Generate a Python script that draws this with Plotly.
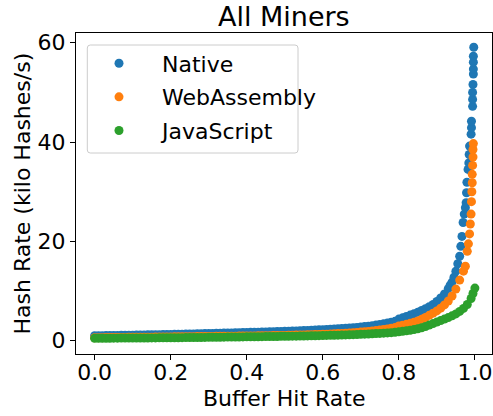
import plotly.graph_objects as go

# ---- data (Buffer Hit Rate vs Hash Rate, kH/s) ----
native_x = [0.00, 0.01, 0.02, 0.03, 0.04, 0.05, 0.06, 0.07, 0.08, 0.09,
            0.10, 0.11, 0.12, 0.13, 0.14, 0.15, 0.16, 0.17, 0.18, 0.19,
            0.20, 0.21, 0.22, 0.23, 0.24, 0.25, 0.26, 0.27, 0.28, 0.29,
            0.30, 0.31, 0.32, 0.33, 0.34, 0.35, 0.36, 0.37, 0.38, 0.39,
            0.40, 0.41, 0.42, 0.43, 0.44, 0.45, 0.46, 0.47, 0.48, 0.49,
            0.50, 0.51, 0.52, 0.53, 0.54, 0.55, 0.56, 0.57, 0.58, 0.59,
            0.60, 0.61, 0.62, 0.63, 0.64, 0.65, 0.66, 0.67, 0.68, 0.69,
            0.70, 0.71, 0.72, 0.73, 0.74, 0.75, 0.76, 0.77, 0.78, 0.79,
            0.80, 0.81, 0.82, 0.83, 0.84, 0.85, 0.86, 0.87, 0.88, 0.89,
            0.90, 0.91, 0.92, 0.93, 0.935, 0.94, 0.945, 0.95, 0.955, 0.96,
            0.963, 0.966, 0.969, 0.972, 0.975, 0.977, 0.978, 0.979, 0.982, 0.984,
            0.985, 0.986, 0.990, 0.991, 0.991, 0.994, 0.994, 0.994, 0.995, 0.996,
            0.996, 0.996, 0.996, 0.997]
native_y = [1.00, 1.01, 1.02, 1.03, 1.05, 1.06, 1.07, 1.08, 1.10, 1.11,
            1.12, 1.14, 1.15, 1.16, 1.18, 1.19, 1.20, 1.22, 1.23, 1.25,
            1.26, 1.28, 1.30, 1.32, 1.33, 1.35, 1.37, 1.39, 1.41, 1.43,
            1.45, 1.47, 1.49, 1.51, 1.53, 1.55, 1.57, 1.60, 1.62, 1.64,
            1.66, 1.68, 1.70, 1.72, 1.74, 1.76, 1.78, 1.81, 1.84, 1.87,
            1.89, 1.92, 1.95, 1.97, 2.00, 2.03, 2.06, 2.10, 2.14, 2.18,
            2.22, 2.26, 2.30, 2.34, 2.39, 2.44, 2.49, 2.55, 2.61, 2.68,
            2.76, 2.84, 2.93, 3.03, 3.14, 3.26, 3.39, 3.54, 3.71, 3.90,
            4.35, 4.60, 4.87, 5.15, 5.45, 5.75, 6.10, 6.45, 6.85, 7.30,
            7.90, 8.60, 9.40, 10.5, 11.2, 11.8, 12.8, 14.0, 15.5, 17.0,
            19.0, 21.0, 23.8, 25.5, 26.8, 27.8, 29.8, 31.9, 34.5, 35.8,
            37.5, 39.2, 41.6, 42.9, 44.2, 47.2, 48.6, 50.0, 51.6, 53.7,
            54.7, 56.1, 57.3, 59.1]

wasm_x = [0.00, 0.01, 0.02, 0.03, 0.04, 0.05, 0.06, 0.07, 0.08, 0.09,
          0.10, 0.11, 0.12, 0.13, 0.14, 0.15, 0.16, 0.17, 0.18, 0.19,
          0.20, 0.21, 0.22, 0.23, 0.24, 0.25, 0.26, 0.27, 0.28, 0.29,
          0.30, 0.31, 0.32, 0.33, 0.34, 0.35, 0.36, 0.37, 0.38, 0.39,
          0.40, 0.41, 0.42, 0.43, 0.44, 0.45, 0.46, 0.47, 0.48, 0.49,
          0.50, 0.51, 0.52, 0.53, 0.54, 0.55, 0.56, 0.57, 0.58, 0.59,
          0.60, 0.61, 0.62, 0.63, 0.64, 0.65, 0.66, 0.67, 0.68, 0.69,
          0.70, 0.71, 0.72, 0.73, 0.74, 0.75, 0.76, 0.77, 0.78, 0.79,
          0.80, 0.81, 0.82, 0.83, 0.84, 0.85, 0.86, 0.87, 0.88, 0.89,
          0.90, 0.91, 0.92, 0.93, 0.94, 0.95, 0.96, 0.97, 0.975, 0.98,
          0.983, 0.986, 0.988, 0.990, 0.991, 0.992, 0.993, 0.993, 0.994, 0.995,
          0.995, 0.996]
wasm_y = [0.60, 0.61, 0.61, 0.62, 0.63, 0.64, 0.64, 0.65, 0.66, 0.67,
          0.68, 0.68, 0.69, 0.70, 0.71, 0.71, 0.72, 0.73, 0.74, 0.75,
          0.76, 0.77, 0.77, 0.78, 0.79, 0.80, 0.81, 0.82, 0.83, 0.84,
          0.85, 0.86, 0.87, 0.88, 0.89, 0.90, 0.91, 0.92, 0.93, 0.94,
          0.95, 0.96, 0.97, 0.98, 0.99, 1.00, 1.02, 1.03, 1.04, 1.06,
          1.07, 1.09, 1.11, 1.13, 1.15, 1.17, 1.19, 1.21, 1.23, 1.26,
          1.29, 1.32, 1.35, 1.39, 1.43, 1.47, 1.51, 1.56, 1.61, 1.67,
          1.73, 1.80, 1.87, 1.95, 2.04, 2.14, 2.25, 2.37, 2.50, 2.64,
          2.95, 3.12, 3.30, 3.50, 3.72, 3.98, 4.30, 4.68, 5.10, 5.55,
          6.00, 6.55, 7.20, 8.00, 9.00, 10.4, 12.2, 14.0, 15.0, 18.0,
          19.5, 21.5, 23.5, 25.5, 28.0, 30.0, 31.8, 33.5, 35.3, 37.0,
          38.5, 39.7]

js_x = [0.00, 0.01, 0.02, 0.03, 0.04, 0.05, 0.06, 0.07, 0.08, 0.09,
        0.10, 0.11, 0.12, 0.13, 0.14, 0.15, 0.16, 0.17, 0.18, 0.19,
        0.20, 0.21, 0.22, 0.23, 0.24, 0.25, 0.26, 0.27, 0.28, 0.29,
        0.30, 0.31, 0.32, 0.33, 0.34, 0.35, 0.36, 0.37, 0.38, 0.39,
        0.40, 0.41, 0.42, 0.43, 0.44, 0.45, 0.46, 0.47, 0.48, 0.49,
        0.50, 0.51, 0.52, 0.53, 0.54, 0.55, 0.56, 0.57, 0.58, 0.59,
        0.60, 0.61, 0.62, 0.63, 0.64, 0.65, 0.66, 0.67, 0.68, 0.69,
        0.70, 0.71, 0.72, 0.73, 0.74, 0.75, 0.76, 0.77, 0.78, 0.79,
        0.80, 0.81, 0.82, 0.83, 0.84, 0.85, 0.86, 0.87, 0.88, 0.89,
        0.90, 0.91, 0.92, 0.93, 0.94, 0.95, 0.96, 0.97, 0.98, 0.99,
        0.995, 1.00]
js_y = [0.48, 0.49, 0.49, 0.50, 0.50, 0.51, 0.51, 0.52, 0.52, 0.53,
        0.53, 0.54, 0.54, 0.55, 0.55, 0.56, 0.56, 0.57, 0.57, 0.58,
        0.59, 0.59, 0.60, 0.61, 0.62, 0.63, 0.64, 0.64, 0.65, 0.66,
        0.67, 0.68, 0.69, 0.70, 0.71, 0.72, 0.73, 0.74, 0.75, 0.76,
        0.77, 0.78, 0.79, 0.80, 0.81, 0.82, 0.83, 0.84, 0.85, 0.87,
        0.88, 0.89, 0.91, 0.92, 0.94, 0.95, 0.97, 0.99, 1.00, 1.02,
        1.04, 1.06, 1.08, 1.10, 1.12, 1.14, 1.17, 1.19, 1.22, 1.25,
        1.28, 1.31, 1.35, 1.39, 1.43, 1.47, 1.52, 1.57, 1.62, 1.68,
        1.78, 1.88, 1.99, 2.11, 2.25, 2.40, 2.60, 2.85, 3.15, 3.45,
        3.75, 4.05, 4.35, 4.65, 5.00, 5.40, 5.90, 6.50, 7.30, 8.50,
        9.50, 10.6]

series_names = ["Native", "WebAssembly", "JavaScript"]
series_colors = ["#1f77b4", "#ff7f0e", "#2ca02c"]
x_ticks = [0.0, 0.2, 0.4, 0.6, 0.8, 1.0]
x_tick_labels = ["0.0", "0.2", "0.4", "0.6", "0.8", "1.0"]
y_ticks = [0, 20, 40, 60]
y_tick_labels = ["0", "20", "40", "60"]
title_text = "All Miners"
x_title = "Buffer Hit Rate"
y_title = "Hash Rate (kilo Hashes/s)"

FONT = "DejaVu Sans"
W, H = 493, 416
ML, MR, MT, MB = 76, 1, 33, 62
PW, PH = W - ML - MR, H - MT - MB


def px_to_paper_x(px):
    return (px - ML) / PW


def px_to_paper_y(py):
    return (H - MB - py) / PH


fig = go.Figure()
for name, color, xs, ys in zip(series_names, series_colors,
                               [native_x, wasm_x, js_x],
                               [native_y, wasm_y, js_y]):
    fig.add_trace(go.Scatter(
        x=xs, y=ys, mode="markers", name=name, legendgroup=name,
        marker=dict(color=color, size=9, line=dict(width=0)),
    ))

axis_common = dict(
    showgrid=False, zeroline=False, showline=True, linecolor="black",
    linewidth=1, mirror=True, ticks="outside", ticklen=5, tickwidth=1,
    tickcolor="black", tickfont=dict(family=FONT, size=22, color="black"),
)

# legend frame (rounded box like the reference)
bx0, bx1 = px_to_paper_x(87.3), px_to_paper_x(298)
by0, by1 = px_to_paper_y(153), px_to_paper_y(45)
rx, ry = 3 / PW, 3 / PH
frame_path = (f"M {bx0 + rx},{by1} L {bx1 - rx},{by1} Q {bx1},{by1} {bx1},{by1 - ry} "
              f"L {bx1},{by0 + ry} Q {bx1},{by0} {bx1 - rx},{by0} "
              f"L {bx0 + rx},{by0} Q {bx0},{by0} {bx0},{by0 + ry} "
              f"L {bx0},{by1 - ry} Q {bx0},{by1} {bx0 + rx},{by1} Z")

fig.update_layout(
    width=W, height=H,
    margin=dict(l=ML, r=MR, t=MT, b=MB),
    paper_bgcolor="white", plot_bgcolor="white",
    font=dict(family=FONT, size=22, color="black"),
    title=dict(text=title_text, x=0.5757, xanchor="center",
               yref="container", y=1 - 17 / H, yanchor="middle",
               font=dict(family=FONT, size=27, color="black")),
    xaxis=dict(range=[-0.049, 1.045], tickvals=x_ticks, ticktext=x_tick_labels,
               ticklabelstandoff=-6, **axis_common),
    yaxis=dict(range=[-2.68, 61.97], tickvals=y_ticks, ticktext=y_tick_labels,
               **axis_common),
    legend=dict(x=0.0, y=0.9705, xanchor="left", yanchor="top",
                bgcolor="rgba(0,0,0,0)", borderwidth=0,
                traceorder="grouped", tracegroupgap=2, itemwidth=76,
                font=dict(family=FONT, size=22, color="black")),
    showlegend=True,
    shapes=[dict(type="path", path=frame_path, xref="paper", yref="paper",
                 line=dict(color="#cccccc", width=1),
                 fillcolor="rgba(255,255,255,0.8)", layer="above")],
    annotations=[
        dict(text=x_title, xref="paper", yref="paper", x=0.5,
             y=px_to_paper_y(398), xanchor="center", yanchor="middle",
             showarrow=False, font=dict(family=FONT, size=22, color="black")),
        dict(text=y_title, xref="paper", yref="paper", x=px_to_paper_x(22),
             y=0.5, xanchor="center", yanchor="middle", showarrow=False,
             textangle=-90, font=dict(family=FONT, size=22, color="black")),
    ],
)

fig.write_html("out.html", config={"displayModeBar": False},
               post_script="document.body.style.margin='0';"
                           "document.body.style.padding='0';")
